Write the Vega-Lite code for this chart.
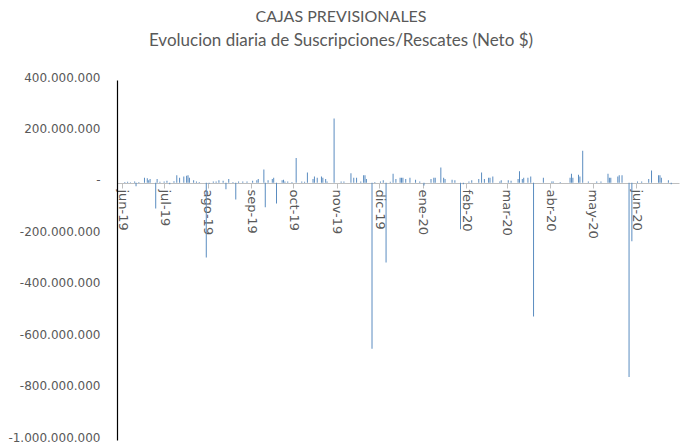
{
  "$schema": "https://vega.github.io/schema/vega-lite/v6.json",
  "width": 562,
  "height": 360,
  "autosize": {"type": "none"},
  "padding": {"left": 117, "top": 80, "right": 3, "bottom": 5},
  "background": "white",
  "title": {
    "text": "CAJAS PREVISIONALES",
    "subtitle": "Evolucion diaria de Suscripciones/Rescates (Neto $)",
    "anchor": "middle",
    "dx": -57,
    "offset": 22,
    "font": "Lato",
    "fontSize": 16,
    "fontWeight": "normal",
    "color": "#595959",
    "subtitleFont": "Lato",
    "subtitleFontSize": 17,
    "subtitleColor": "#595959",
    "subtitlePadding": 8
  },
  "config": {
    "view": {"stroke": null},
    "locale": {
      "number": {"decimal": ",", "thousands": ".", "grouping": [3], "currency": ["$", ""], "minus": "-"},
      "time": {
        "dateTime": "%A, %e de %B de %Y, %X",
        "date": "%d/%m/%Y",
        "time": "%H:%M:%S",
        "periods": ["AM", "PM"],
        "days": ["domingo", "lunes", "martes", "miércoles", "jueves", "viernes", "sábado"],
        "shortDays": ["dom", "lun", "mar", "mié", "jue", "vie", "sáb"],
        "months": ["enero", "febrero", "marzo", "abril", "mayo", "junio", "julio", "agosto", "septiembre", "octubre", "noviembre", "diciembre"],
        "shortMonths": ["ene", "feb", "mar", "abr", "may", "jun", "jul", "ago", "sep", "oct", "nov", "dic"]
      }
    }
  },
  "data": {
    "values": [
      {"fecha": "2019-06-03", "neto": 3000000},
      {"fecha": "2019-06-05", "neto": 4000000},
      {"fecha": "2019-06-07", "neto": 2000000},
      {"fecha": "2019-06-10", "neto": 5000000},
      {"fecha": "2019-06-11", "neto": -13000000},
      {"fecha": "2019-06-13", "neto": 3000000},
      {"fecha": "2019-06-17", "neto": 20000000},
      {"fecha": "2019-06-19", "neto": 18000000},
      {"fecha": "2019-06-20", "neto": 10000000},
      {"fecha": "2019-06-21", "neto": 15000000},
      {"fecha": "2019-06-25", "neto": -100000000},
      {"fecha": "2019-06-26", "neto": 15000000},
      {"fecha": "2019-06-28", "neto": 4000000},
      {"fecha": "2019-07-01", "neto": 5000000},
      {"fecha": "2019-07-03", "neto": 8000000},
      {"fecha": "2019-07-05", "neto": -5000000},
      {"fecha": "2019-07-08", "neto": 6000000},
      {"fecha": "2019-07-10", "neto": 30000000},
      {"fecha": "2019-07-12", "neto": 20000000},
      {"fecha": "2019-07-15", "neto": 25000000},
      {"fecha": "2019-07-17", "neto": 28000000},
      {"fecha": "2019-07-18", "neto": 30000000},
      {"fecha": "2019-07-19", "neto": 20000000},
      {"fecha": "2019-07-22", "neto": 10000000},
      {"fecha": "2019-07-24", "neto": 5000000},
      {"fecha": "2019-07-26", "neto": 3000000},
      {"fecha": "2019-07-31", "neto": -290000000},
      {"fecha": "2019-08-02", "neto": -3000000},
      {"fecha": "2019-08-05", "neto": 5000000},
      {"fecha": "2019-08-07", "neto": 5000000},
      {"fecha": "2019-08-09", "neto": 10000000},
      {"fecha": "2019-08-12", "neto": 8000000},
      {"fecha": "2019-08-14", "neto": -25000000},
      {"fecha": "2019-08-16", "neto": 15000000},
      {"fecha": "2019-08-19", "neto": 3000000},
      {"fecha": "2019-08-21", "neto": -65000000},
      {"fecha": "2019-08-23", "neto": 5000000},
      {"fecha": "2019-08-26", "neto": 5000000},
      {"fecha": "2019-08-29", "neto": 5000000},
      {"fecha": "2019-09-02", "neto": 8000000},
      {"fecha": "2019-09-05", "neto": 10000000},
      {"fecha": "2019-09-06", "neto": 15000000},
      {"fecha": "2019-09-10", "neto": 52000000},
      {"fecha": "2019-09-11", "neto": -95000000},
      {"fecha": "2019-09-13", "neto": 10000000},
      {"fecha": "2019-09-16", "neto": 15000000},
      {"fecha": "2019-09-17", "neto": 20000000},
      {"fecha": "2019-09-19", "neto": -80000000},
      {"fecha": "2019-09-23", "neto": 10000000},
      {"fecha": "2019-09-24", "neto": 12000000},
      {"fecha": "2019-09-25", "neto": 5000000},
      {"fecha": "2019-09-27", "neto": 5000000},
      {"fecha": "2019-09-30", "neto": 3000000},
      {"fecha": "2019-10-03", "neto": 97000000},
      {"fecha": "2019-10-07", "neto": 5000000},
      {"fecha": "2019-10-09", "neto": 4000000},
      {"fecha": "2019-10-11", "neto": 40000000},
      {"fecha": "2019-10-15", "neto": 15000000},
      {"fecha": "2019-10-16", "neto": 25000000},
      {"fecha": "2019-10-18", "neto": 20000000},
      {"fecha": "2019-10-21", "neto": 25000000},
      {"fecha": "2019-10-22", "neto": 20000000},
      {"fecha": "2019-10-24", "neto": 15000000},
      {"fecha": "2019-10-25", "neto": 5000000},
      {"fecha": "2019-10-30", "neto": 250000000},
      {"fecha": "2019-11-04", "neto": 5000000},
      {"fecha": "2019-11-06", "neto": 5000000},
      {"fecha": "2019-11-11", "neto": 37000000},
      {"fecha": "2019-11-13", "neto": 20000000},
      {"fecha": "2019-11-15", "neto": 20000000},
      {"fecha": "2019-11-18", "neto": 5000000},
      {"fecha": "2019-11-20", "neto": 30000000},
      {"fecha": "2019-11-21", "neto": 30000000},
      {"fecha": "2019-11-22", "neto": 15000000},
      {"fecha": "2019-11-26", "neto": -645000000},
      {"fecha": "2019-11-28", "neto": 3000000},
      {"fecha": "2019-12-02", "neto": 5000000},
      {"fecha": "2019-12-04", "neto": 10000000},
      {"fecha": "2019-12-06", "neto": -310000000},
      {"fecha": "2019-12-09", "neto": 4000000},
      {"fecha": "2019-12-11", "neto": 35000000},
      {"fecha": "2019-12-13", "neto": 15000000},
      {"fecha": "2019-12-16", "neto": 20000000},
      {"fecha": "2019-12-17", "neto": 20000000},
      {"fecha": "2019-12-18", "neto": 20000000},
      {"fecha": "2019-12-20", "neto": 15000000},
      {"fecha": "2019-12-23", "neto": 20000000},
      {"fecha": "2019-12-27", "neto": 12000000},
      {"fecha": "2019-12-30", "neto": 5000000},
      {"fecha": "2020-01-02", "neto": -10000000},
      {"fecha": "2020-01-07", "neto": 15000000},
      {"fecha": "2020-01-09", "neto": 20000000},
      {"fecha": "2020-01-10", "neto": 20000000},
      {"fecha": "2020-01-14", "neto": 60000000},
      {"fecha": "2020-01-16", "neto": 20000000},
      {"fecha": "2020-01-17", "neto": 15000000},
      {"fecha": "2020-01-22", "neto": 12000000},
      {"fecha": "2020-01-24", "neto": 10000000},
      {"fecha": "2020-01-28", "neto": -180000000},
      {"fecha": "2020-01-30", "neto": -5000000},
      {"fecha": "2020-02-03", "neto": 5000000},
      {"fecha": "2020-02-05", "neto": 10000000},
      {"fecha": "2020-02-10", "neto": 15000000},
      {"fecha": "2020-02-12", "neto": 40000000},
      {"fecha": "2020-02-14", "neto": 15000000},
      {"fecha": "2020-02-17", "neto": 20000000},
      {"fecha": "2020-02-18", "neto": 20000000},
      {"fecha": "2020-02-20", "neto": 25000000},
      {"fecha": "2020-02-25", "neto": 5000000},
      {"fecha": "2020-02-26", "neto": 10000000},
      {"fecha": "2020-03-02", "neto": 10000000},
      {"fecha": "2020-03-04", "neto": 8000000},
      {"fecha": "2020-03-09", "neto": 15000000},
      {"fecha": "2020-03-10", "neto": 45000000},
      {"fecha": "2020-03-12", "neto": 15000000},
      {"fecha": "2020-03-13", "neto": 20000000},
      {"fecha": "2020-03-16", "neto": 20000000},
      {"fecha": "2020-03-18", "neto": 25000000},
      {"fecha": "2020-03-20", "neto": -520000000},
      {"fecha": "2020-03-27", "neto": 20000000},
      {"fecha": "2020-04-02", "neto": 5000000},
      {"fecha": "2020-04-03", "neto": 5000000},
      {"fecha": "2020-04-08", "neto": 3000000},
      {"fecha": "2020-04-15", "neto": 20000000},
      {"fecha": "2020-04-16", "neto": 35000000},
      {"fecha": "2020-04-17", "neto": 20000000},
      {"fecha": "2020-04-21", "neto": 32000000},
      {"fecha": "2020-04-22", "neto": 25000000},
      {"fecha": "2020-04-24", "neto": 125000000},
      {"fecha": "2020-04-28", "neto": 5000000},
      {"fecha": "2020-05-04", "neto": 5000000},
      {"fecha": "2020-05-07", "neto": 5000000},
      {"fecha": "2020-05-12", "neto": 35000000},
      {"fecha": "2020-05-13", "neto": 20000000},
      {"fecha": "2020-05-14", "neto": 20000000},
      {"fecha": "2020-05-19", "neto": 25000000},
      {"fecha": "2020-05-20", "neto": 30000000},
      {"fecha": "2020-05-22", "neto": 30000000},
      {"fecha": "2020-05-27", "neto": -755000000},
      {"fecha": "2020-05-29", "neto": -227000000},
      {"fecha": "2020-06-02", "neto": 5000000},
      {"fecha": "2020-06-05", "neto": 5000000},
      {"fecha": "2020-06-10", "neto": 15000000},
      {"fecha": "2020-06-12", "neto": 48000000},
      {"fecha": "2020-06-17", "neto": 30000000},
      {"fecha": "2020-06-18", "neto": 30000000},
      {"fecha": "2020-06-19", "neto": 20000000},
      {"fecha": "2020-06-24", "neto": 10000000},
      {"fecha": "2020-06-26", "neto": -5000000}
    ]
  },
  "mark": {"type": "bar", "width": 1, "color": "#5a8cc0"},
  "encoding": {
    "x": {
      "field": "fecha",
      "type": "temporal",
      "scale": {
        "type": "utc",
        "domain": [
          {"year": 2019, "month": 6, "date": 1, "utc": true},
          {"year": 2020, "month": 6, "date": 28, "utc": true}
        ]
      },
      "axis": {
        "title": null,
        "values": [
          {"year": 2019, "month": 6, "date": 1, "utc": true},
          {"year": 2019, "month": 7, "date": 1, "utc": true},
          {"year": 2019, "month": 8, "date": 1, "utc": true},
          {"year": 2019, "month": 9, "date": 1, "utc": true},
          {"year": 2019, "month": 10, "date": 1, "utc": true},
          {"year": 2019, "month": 11, "date": 1, "utc": true},
          {"year": 2019, "month": 12, "date": 1, "utc": true},
          {"year": 2020, "month": 1, "date": 1, "utc": true},
          {"year": 2020, "month": 2, "date": 1, "utc": true},
          {"year": 2020, "month": 3, "date": 1, "utc": true},
          {"year": 2020, "month": 4, "date": 1, "utc": true},
          {"year": 2020, "month": 5, "date": 1, "utc": true},
          {"year": 2020, "month": 6, "date": 1, "utc": true}
        ],
        "format": "%b-%y",
        "labelAngle": 90,
        "labelFont": "DejaVu Sans",
        "labelFontSize": 13,
        "labelColor": "#595959",
        "labelPadding": 1,
        "labelOverlap": false,
        "labelFlush": false,
        "offset": -257,
        "domainColor": "#bfbfbf",
        "tickColor": "#bfbfbf",
        "tickSize": 5,
        "grid": false
      }
    },
    "y": {
      "field": "neto",
      "type": "quantitative",
      "scale": {"domain": [-1000000000, 400000000], "nice": false, "zero": true},
      "axis": {
        "title": null,
        "values": [-1000000000, -800000000, -600000000, -400000000, -200000000, 0, 200000000, 400000000],
        "format": ",d",
        "labelExpr": "datum.value == 0 ? '-\u00a0\u00a0\u00a0' : datum.label",
        "labelFont": "DejaVu Sans",
        "labelFontSize": 12,
        "labelColor": "#595959",
        "labelPadding": 17,
        "labelOffset": -3,
        "ticks": false,
        "grid": false,
        "domainColor": "#000000",
        "domainWidth": 1.2
      }
    }
  }
}
